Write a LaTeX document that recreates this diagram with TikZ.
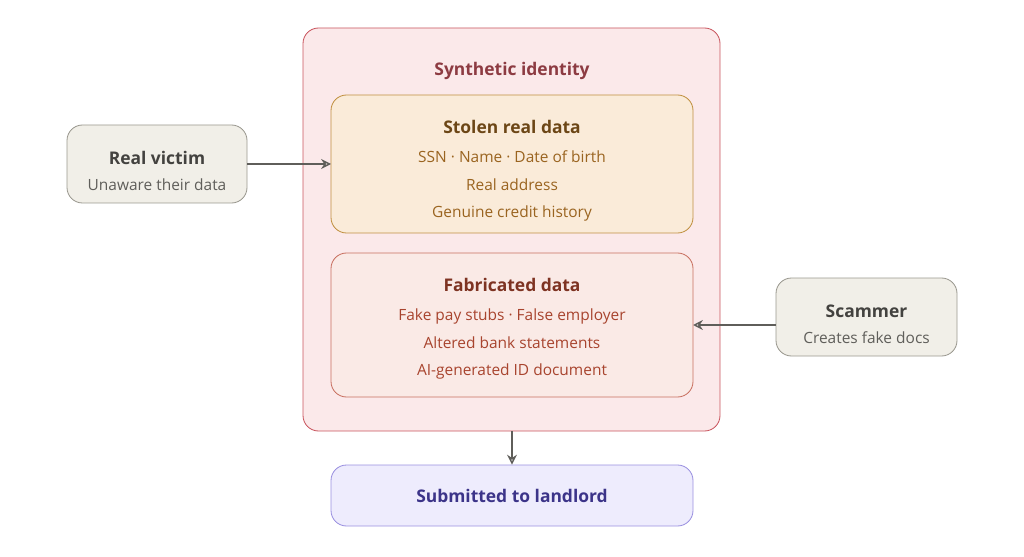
\documentclass[tikz,border=0pt]{standalone}
\usepackage{fontspec}
\setmainfont{Open Sans}
\usetikzlibrary{arrows.meta}
\definecolor{outerfill}{HTML}{FBE9EA}
\definecolor{outerline}{HTML}{C9555E}
\definecolor{stolenfill}{HTML}{FAEBD9}
\definecolor{stolenline}{HTML}{C09040}
\definecolor{stolentext}{HTML}{9A6420}
\definecolor{fabfill}{HTML}{FAEAE6}
\definecolor{fabline}{HTML}{C87060}
\definecolor{fabtext}{HTML}{A8442E}
\definecolor{greyfill}{HTML}{F1EFE8}
\definecolor{greyline}{HTML}{9A988F}
\definecolor{greytext}{HTML}{5F5E5A}
\definecolor{bluefill}{HTML}{EEECFD}
\definecolor{blueline}{HTML}{9A90E0}
\definecolor{bluetext}{HTML}{3C3489}
\tikzset{
  panel/.style={draw, rounded corners=11pt, line width=0.6pt},
  title/.style={font=\bfseries\fontsize{12.4}{14}\selectfont},
  line/.style={font=\fontsize{11}{13}\selectfont},
  link/.style={draw=greytext, line width=1pt, -{Stealth[length=7pt,width=7pt,open]}}
}
\begin{document}
\begin{tikzpicture}[x=0.025cm, y=-0.025cm]
        \useasboundingbox (0,0) rectangle (1024,557);

        % outer frame
        \draw [panel, draw=outerline, fill=outerfill] (303,28) rectangle (720,431);
        \node [title, text=outerline!70!black] (synth) at (512,71) {Synthetic identity};

        % stolen real data
        \draw [panel, draw=stolenline, fill=stolenfill] (331,95) rectangle (693,233);
        \coordinate (stolenL) at (331,164);
        \node [title, text=stolentext!70!black] (stolen) at (512,127) {Stolen real data};
        \node [line, text=stolentext] (ssn) at (512,157) {SSN · Name · Date of birth};
        \node [line, text=stolentext] (addr) at (512,185) {Real address};
        \node [line, text=stolentext] (credit) at (512,213) {Genuine credit history};

        % fabricated data
        \draw [panel, draw=fabline, fill=fabfill] (331,253) rectangle (693,397);
        \coordinate (fabR) at (693,325);
        \node [title, text=fabtext!75!black] (fab) at (512,285) {Fabricated data};
        \node [line, text=fabtext] (pay) at (512,316) {Fake pay stubs · False employer};
        \node [line, text=fabtext] (bank) at (512,343) {Altered bank statements};
        \node [line, text=fabtext] (aiid) at (512,371) {AI-generated ID document};

        % real victim
        \node [panel, draw=greyline, fill=greyfill, minimum width=180*0.025cm,
          minimum height=78*0.025cm] (victim) at (157,164) {};
        \node [title, text=greytext!70!black] at (157,158) {Real victim};
        \node [line, text=greytext] at (157,185) {Unaware their data};

        % scammer
        \node [panel, draw=greyline, fill=greyfill, minimum width=181*0.025cm,
          minimum height=78*0.025cm] (scammer) at (866.5,317) {};
        \node [title, text=greytext!70!black] at (866.5,311) {Scammer};
        \node [line, text=greytext] at (866.5,338) {Creates fake docs};

        % submitted
        \node [panel, draw=blueline, fill=bluefill, minimum width=362*0.025cm,
          minimum height=61*0.025cm, title, text=bluetext] (landlord) at (512,495.5)
          {Submitted to landlord};
        \coordinate (outerB) at (512,431);

        \draw [link] (victim.east) -- (stolenL);
        \draw [link] (scammer.west |- fabR) -- (fabR);
        \draw [link] (outerB) -- (landlord.north);
\end{tikzpicture}
\end{document}
